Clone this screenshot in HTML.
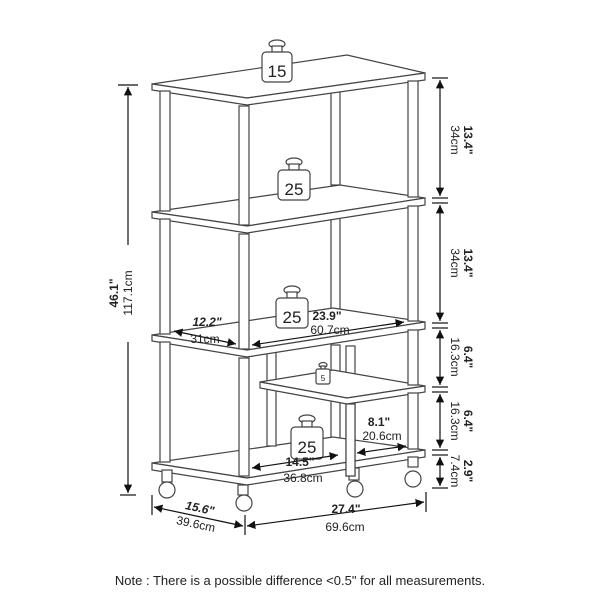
<!DOCTYPE html>
<html><head><meta charset="utf-8"><style>
html,body{margin:0;padding:0;background:#fff;}
svg{display:block;font-family:"Liberation Sans",sans-serif;}
</style></head><body>
<svg width="600" height="600" viewBox="0 0 600 600" xmlns="http://www.w3.org/2000/svg">
<defs>
<marker id="a" viewBox="0 0 10 10" refX="10" refY="5" markerWidth="7" markerHeight="7" orient="auto-start-reverse"><path d="M0,0 L10,5 L0,10 z" fill="#111"/></marker>
</defs>
<g stroke="#444" stroke-width="1.2" fill="#fff">
<rect x="331" y="90" width="9" height="95"/>
<rect x="331" y="218" width="9" height="95"/>
<rect x="331" y="345" width="9" height="112"/>
<path d="M152,463 L333,437 L425,450 L247,478 Z"/>
<path d="M152,463 L152,470 L247,485 L425,457 L425,450 L247,478 Z"/>
<rect x="162" y="470" width="10" height="12"/><circle cx="167" cy="490" r="8"/>
<rect x="238" y="485" width="10" height="10"/><circle cx="244" cy="503" r="8"/>
<rect x="349" y="468" width="10" height="12"/><circle cx="355" cy="489" r="8"/>
<rect x="408" y="457" width="10" height="10"/><circle cx="413" cy="479" r="8"/>
<rect x="267" y="348" width="9" height="98"/>
<rect x="346" y="346" width="9" height="130"/>
<path d="M260,382 L333,370 L425,386 L347,398 Z"/>
<path d="M260,382 L260,388 L347,404 L425,392 L425,386 L347,398 Z"/>
<rect x="346" y="404" width="9" height="72"/>
<path d="M152,335 L333,308 L425,322 L247,350 Z"/>
<path d="M152,335 L152,341 L247,357 L425,329 L425,322 L247,350 Z"/>
<path d="M152,212 L340,185 L425,198 L247,226 Z"/>
<path d="M152,212 L152,218 L247,233 L425,205 L425,198 L247,226 Z"/>
<path d="M152,84 L347,55 L425,73 L247,98 Z"/>
<path d="M152,84 L152,90 L247,105 L425,80 L425,73 L247,98 Z"/>
<rect x="160" y="91" width="10" height="120"/>
<rect x="160" y="219" width="10" height="115"/>
<rect x="160" y="342" width="10" height="120"/>
<rect x="239" y="106" width="10" height="119"/>
<rect x="239" y="234" width="10" height="115"/>
<rect x="239" y="358" width="10" height="118"/>
<rect x="408" y="81" width="10" height="116"/>
<rect x="408" y="206" width="10" height="115"/>
<rect x="408" y="330" width="10" height="55"/>
<rect x="408" y="393" width="10" height="56"/>
</g>
<g stroke="#444" stroke-width="1.2" fill="#fff" font-size="17" text-anchor="middle">
<g transform="translate(277,40)"><ellipse cx="0" cy="4" rx="8" ry="4"/><rect x="-5" y="6" width="10" height="6"/><rect x="-15" y="12" width="30" height="30" rx="4"/><text x="0" y="37" stroke="none" fill="#222">15</text></g>
<g transform="translate(294,158)"><ellipse cx="0" cy="4" rx="8" ry="4"/><rect x="-5" y="6" width="10" height="6"/><rect x="-16" y="12" width="32" height="30" rx="4"/><text x="0" y="37" stroke="none" fill="#222">25</text></g>
<g transform="translate(292,286)"><ellipse cx="0" cy="4" rx="8" ry="4"/><rect x="-5" y="6" width="10" height="6"/><rect x="-16" y="12" width="32" height="30" rx="4"/><text x="0" y="37" stroke="none" fill="#222">25</text></g>
<g transform="translate(323,362)" font-size="8"><ellipse cx="0" cy="3" rx="4" ry="2.5"/><rect x="-2" y="4" width="4" height="3"/><rect x="-7" y="7" width="14" height="15" rx="2"/><text x="0" y="19" stroke="none" fill="#222">5</text></g>
<g transform="translate(307,415)"><ellipse cx="0" cy="4" rx="8" ry="4"/><rect x="-5" y="6" width="10" height="6"/><rect x="-16" y="12" width="32" height="32" rx="4"/><text x="0" y="38" stroke="none" fill="#222">25</text></g>
</g>
<g stroke="#111" stroke-width="1.2" fill="none">
<line x1="128" y1="87" x2="128" y2="245" marker-start="url(#a)"/>
<line x1="128" y1="342" x2="128" y2="493" marker-end="url(#a)"/>
<line x1="118" y1="85" x2="138" y2="85"/><line x1="120" y1="495" x2="136" y2="495"/>
<line x1="432" y1="78" x2="448" y2="78"/><line x1="432" y1="198" x2="448" y2="198"/><line x1="432" y1="203" x2="448" y2="203"/>
<line x1="432" y1="323" x2="448" y2="323"/><line x1="432" y1="328" x2="448" y2="328"/>
<line x1="432" y1="387" x2="448" y2="387"/><line x1="432" y1="392" x2="448" y2="392"/>
<line x1="432" y1="450" x2="448" y2="450"/><line x1="432" y1="455" x2="448" y2="455"/><line x1="432" y1="488" x2="448" y2="488"/>
<line x1="440" y1="80" x2="440" y2="196" marker-start="url(#a)" marker-end="url(#a)"/>
<line x1="440" y1="205" x2="440" y2="321" marker-start="url(#a)" marker-end="url(#a)"/>
<line x1="440" y1="330" x2="440" y2="385" marker-start="url(#a)" marker-end="url(#a)"/>
<line x1="440" y1="394" x2="440" y2="448" marker-start="url(#a)" marker-end="url(#a)"/>
<line x1="440" y1="457" x2="440" y2="486" marker-start="url(#a)" marker-end="url(#a)"/>
<line x1="152" y1="495" x2="152" y2="515"/><line x1="245" y1="515" x2="245" y2="535"/><line x1="426" y1="492" x2="426" y2="512"/>
<line x1="154" y1="507" x2="243" y2="526" marker-start="url(#a)" marker-end="url(#a)"/>
<line x1="247" y1="526" x2="424" y2="502" marker-start="url(#a)" marker-end="url(#a)"/>
<line x1="174" y1="331" x2="236" y2="344" marker-start="url(#a)" marker-end="url(#a)"/>
<line x1="252" y1="345" x2="404" y2="322" marker-start="url(#a)" marker-end="url(#a)"/>
<line x1="252" y1="468" x2="338" y2="455" marker-start="url(#a)" marker-end="url(#a)"/>
<line x1="357" y1="453" x2="406" y2="446" marker-start="url(#a)" marker-end="url(#a)"/>
</g>
<g fill="#222" font-size="12">
<text transform="translate(118,293) rotate(-90)" text-anchor="middle" font-weight="bold">46.1"</text>
<text transform="translate(132,293) rotate(-90)" text-anchor="middle">117.1cm</text>
<text transform="translate(451,140) rotate(90)" text-anchor="middle">34cm</text>
<text transform="translate(464,140) rotate(90)" text-anchor="middle" font-weight="bold">13.4"</text>
<text transform="translate(451,263) rotate(90)" text-anchor="middle">34cm</text>
<text transform="translate(464,263) rotate(90)" text-anchor="middle" font-weight="bold">13.4"</text>
<text transform="translate(451,357) rotate(90)" text-anchor="middle">16.3cm</text>
<text transform="translate(464,357) rotate(90)" text-anchor="middle" font-weight="bold">6.4"</text>
<text transform="translate(451,421) rotate(90)" text-anchor="middle">16.3cm</text>
<text transform="translate(464,421) rotate(90)" text-anchor="middle" font-weight="bold">6.4"</text>
<text transform="translate(451,471) rotate(90)" text-anchor="middle">7.4cm</text>
<text transform="translate(464,471) rotate(90)" text-anchor="middle" font-weight="bold">2.9"</text>
<text x="207" y="326" text-anchor="middle" font-weight="bold" font-style="italic">12.2"</text>
<text x="205" y="343" text-anchor="middle">31cm</text>
<text x="327" y="320" text-anchor="middle" font-weight="bold">23.9"</text>
<text x="330" y="334" text-anchor="middle">60.7cm</text>
<text x="379" y="426" text-anchor="middle" font-weight="bold">8.1"</text>
<text x="382" y="440" text-anchor="middle">20.6cm</text>
<text x="300" y="466" text-anchor="middle" font-weight="bold">14.5"</text>
<text x="303" y="482" text-anchor="middle">36.8cm</text>
<text transform="translate(199,512) rotate(12)" text-anchor="middle" font-weight="bold" font-style="italic">15.6"</text>
<text transform="translate(195,528) rotate(12)" text-anchor="middle">39.6cm</text>
<text x="346" y="513" text-anchor="middle" font-weight="bold">27.4"</text>
<text x="345" y="531" text-anchor="middle">69.6cm</text>
<text x="300" y="585" text-anchor="middle" font-size="13">Note : There is a possible difference &lt;0.5" for all measurements.</text>
</g>
</svg>
</body></html>
